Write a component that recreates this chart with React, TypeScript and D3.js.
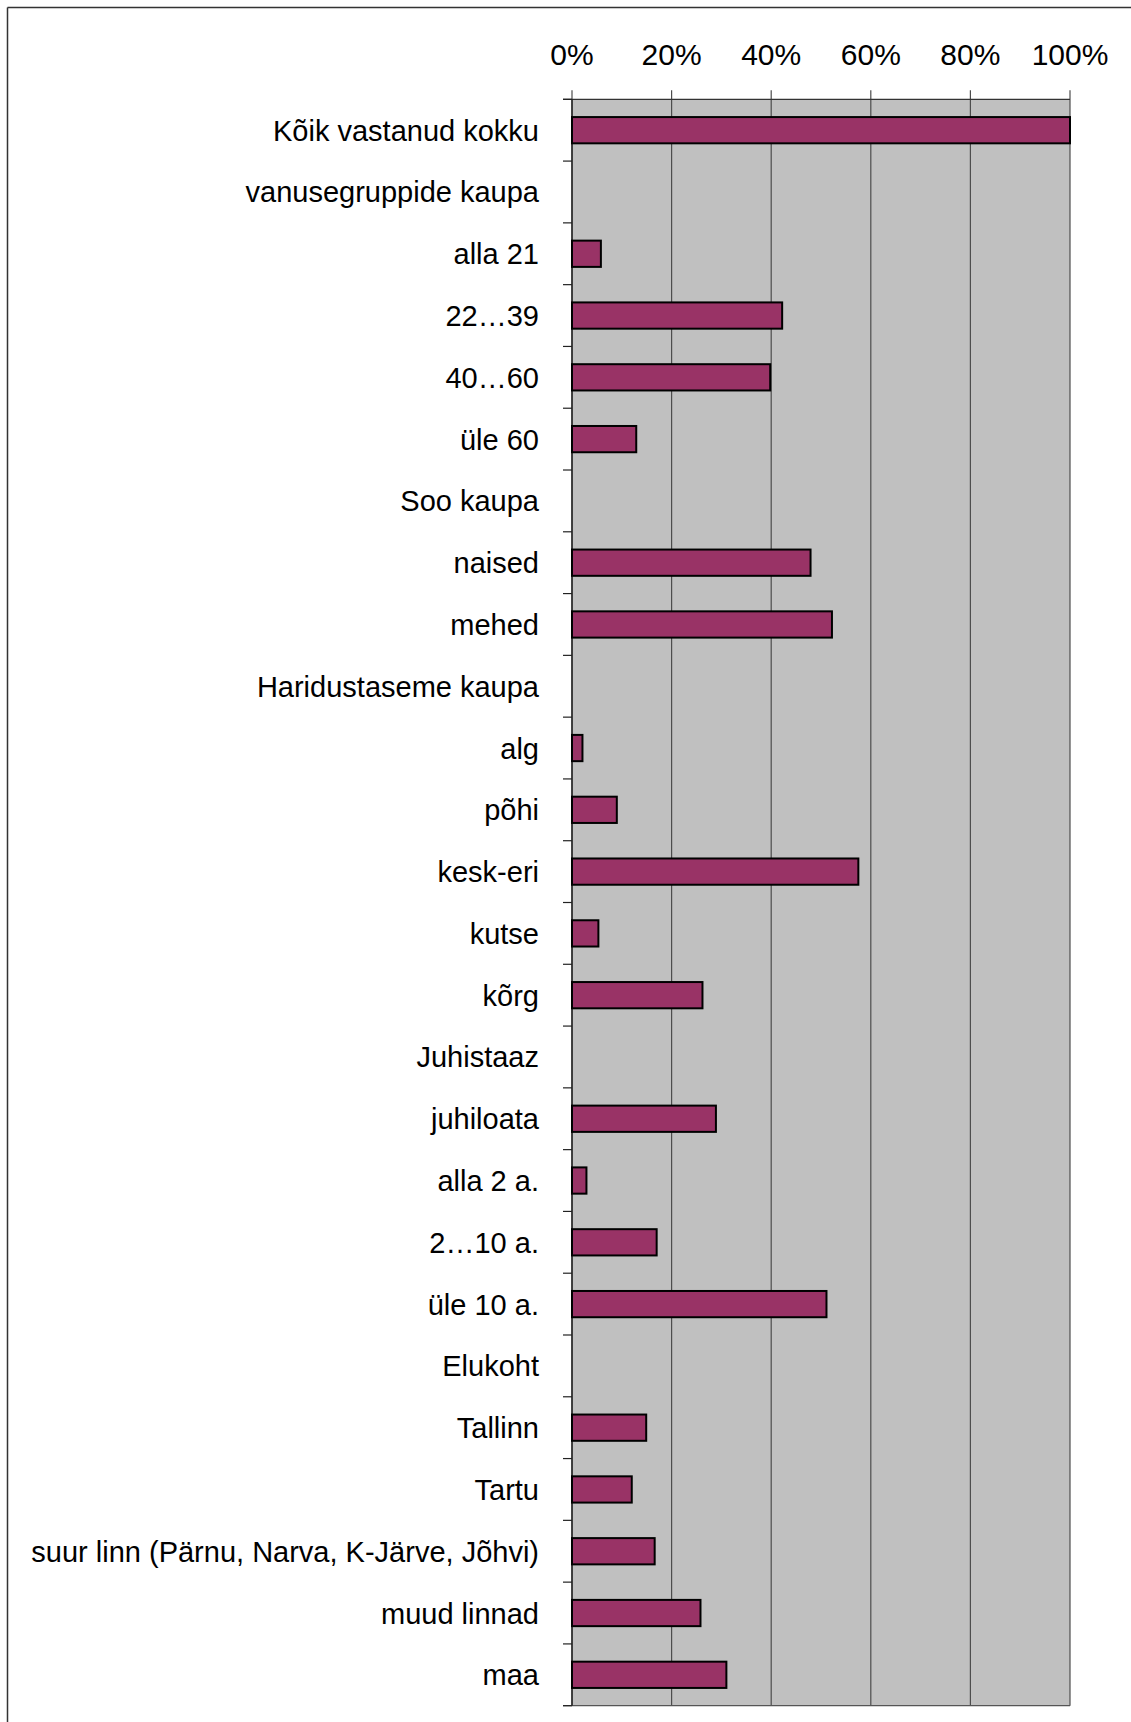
import React from "react";
import * as d3 from "d3";

const categories = [
  "Kõik vastanud kokku",
  "vanusegruppide kaupa",
  "alla 21",
  "22…39",
  "40…60",
  "üle 60",
  "Soo kaupa",
  "naised",
  "mehed",
  "Haridustaseme kaupa",
  "alg",
  "põhi",
  "kesk-eri",
  "kutse",
  "kõrg",
  "Juhistaaz",
  "juhiloata",
  "alla 2 a.",
  "2…10 a.",
  "üle 10 a.",
  "Elukoht",
  "Tallinn",
  "Tartu",
  "suur linn (Pärnu, Narva, K-Järve, Jõhvi)",
  "muud linnad",
  "maa",
];

const values: (number | null)[] = [
  100, null, 5.8, 42.2, 39.8, 12.9, null, 47.9, 52.2, null, 2.1, 9.0, 57.5, 5.3,
  26.2, null, 28.9, 2.9, 17.0, 51.1, null, 14.9, 12.0, 16.6, 25.8, 31.0,
];

const xTicks = [0, 20, 40, 60, 80, 100];

export default function App() {
  const W = 1131;
  const H = 1722;
  const left = 572;
  const right = 1070;
  const top = 99.3;
  const bottom = 1705.7;

  const x = d3.scaleLinear().domain([0, 100]).range([left, right]);
  const pInner = 0.575;
  const y = d3
    .scaleBand<string>()
    .domain(categories)
    .range([top, bottom])
    .paddingInner(pInner)
    .paddingOuter(pInner / 2);
  const yOuter = d3.scaleBand<string>().domain(categories).range([top, bottom]).padding(0);
  const step = yOuter.step();
  const boundaries = categories.map((c) => yOuter(c) as number).concat([bottom]);

  const font = "'Liberation Sans', Arial, sans-serif";

  return (
    <svg
      width={W}
      height={H}
      style={{ position: "absolute", left: 0, top: 0, background: "#fff" }}
    >
      {/* frame */}
      <line x1={7.5} y1={7.5} x2={W} y2={7.5} stroke="#333" strokeWidth={1.5} />
      <line x1={7.5} y1={7.5} x2={7.5} y2={H} stroke="#333" strokeWidth={1.5} />

      {/* plot area */}
      <rect x={left} y={top} width={right - left} height={bottom - top} fill="#c0c0c0" />

      {/* gridlines + top ticks */}
      {xTicks.map((t) => (
        <g key={t}>
          <line x1={x(t)} x2={x(t)} y1={top - 9} y2={bottom} stroke="#4d4d4d" strokeWidth={1.2} />
          <text
            x={x(t)}
            y={65}
            textAnchor="middle"
            fontFamily={font}
            fontSize={30}
            fill="#000"
          >
            {t}%
          </text>
        </g>
      ))}

      {/* top axis line */}
      <line x1={left - 9} x2={right} y1={top} y2={top} stroke="#333" strokeWidth={1.2} />
      {/* bottom line */}
      <line x1={left - 9} x2={right} y1={bottom} y2={bottom} stroke="#555" strokeWidth={1.2} />
      {/* left axis */}
      <line x1={left} x2={left} y1={top} y2={bottom} stroke="#222" strokeWidth={1.4} />

      {/* category ticks */}
      {boundaries.map((b, i) => (
        <line key={i} x1={left - 9} x2={left} y1={b} y2={b} stroke="#222" strokeWidth={1.2} />
      ))}

      {/* bars */}
      {categories.map((c, i) => {
        const v = values[i];
        if (v === null) return null;
        return (
          <rect
            key={c}
            x={x(0)}
            y={y(c) as number}
            width={x(v) - x(0)}
            height={y.bandwidth()}
            fill="#993366"
            stroke="#000"
            strokeWidth={2}
          />
        );
      })}

      {/* category labels */}
      {categories.map((c) => (
        <text
          key={c}
          x={539}
          y={(yOuter(c) as number) + step / 2 + 10.5}
          textAnchor="end"
          fontFamily={font}
          fontSize={29}
          fill="#000"
        >
          {c}
        </text>
      ))}
    </svg>
  );
}
